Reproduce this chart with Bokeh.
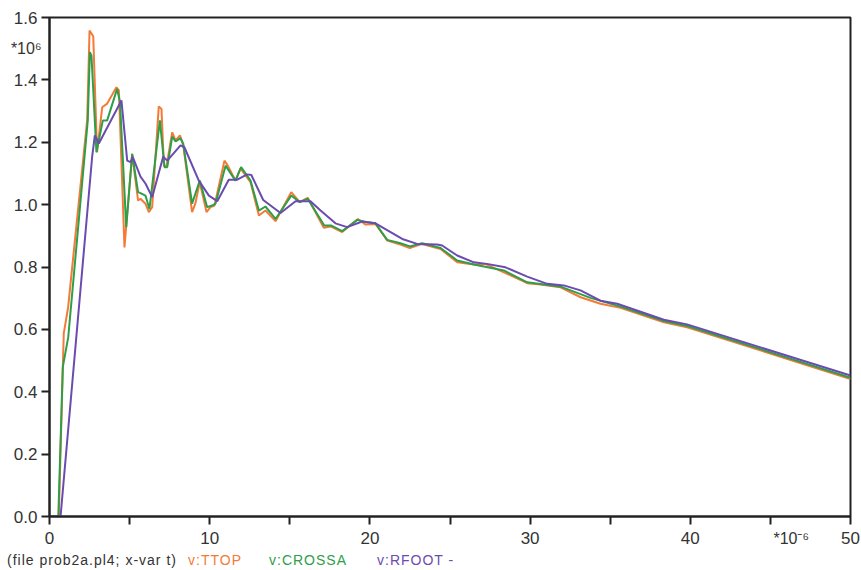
from bokeh.plotting import figure
from bokeh.models import Range1d, FixedTicker, LinearAxis, Div
from bokeh.layouts import column
from bokeh.embed import file_html
from bokeh.resources import INLINE

# time in microseconds (*10^-6), voltage in *10^6
t_ttop = [0, 0.58, 0.89, 1.16, 2.35, 2.5, 2.73, 2.97, 3.29, 3.6, 4.18, 4.33, 4.68, 4.85, 5.16, 5.53,
          5.68, 5.99, 6.2, 6.41, 6.82, 6.99, 7.14, 7.3, 7.66, 7.87, 8.14, 8.35, 8.9, 9.1, 9.38, 9.8,
          10.05, 10.3, 10.92, 11.13, 11.61, 11.92, 12.55, 13.07, 13.48, 14.11, 15.09, 15.62, 16.12,
          17.12, 17.54, 18.27, 19.25, 19.73, 20.35, 21.08, 21.91, 22.49, 23.26, 24.41, 25.45, 26.49,
          27.2, 28.36, 29.82, 30.65, 31.9, 33.15, 34.39, 35.64, 38.35, 39.8, 50]
v_ttop = [0, 0, 0.587, 0.67, 1.27, 1.558, 1.54, 1.168, 1.312, 1.324, 1.376, 1.366, 0.863, 0.97, 1.163, 1.013,
          1.019, 1.003, 0.976, 0.992, 1.315, 1.307, 1.125, 1.122, 1.232, 1.206, 1.222, 1.19, 0.976, 1.003, 1.072, 0.976,
          0.992, 0.997, 1.141, 1.125, 1.077, 1.116, 1.072, 0.965, 0.981, 0.947, 1.04, 1.008, 1.022,
          0.926, 0.93, 0.912, 0.954, 0.936, 0.938, 0.885, 0.872, 0.861, 0.874, 0.858, 0.815, 0.808,
          0.81, 0.783, 0.748, 0.744, 0.735, 0.703, 0.682, 0.669, 0.623, 0.607, 0.441]

t_crossa = [0, 0.55, 0.83, 1.17, 2.39, 2.52, 2.62, 2.93, 3.33, 3.6, 4.22, 4.4, 4.79, 5.16, 5.53,
            5.68, 5.99, 6.24, 6.89, 7.18, 7.35, 7.66, 7.87, 8.18, 8.35, 8.9, 9.38, 9.84, 10.15, 10.36,
            10.99, 11.61, 11.96, 12.55, 13.07, 13.48, 14.11, 15.09, 15.62, 16.12, 17.15, 17.6, 18.27,
            19.22, 19.73, 20.35, 21.08, 21.91, 22.49, 23.26, 24.41, 25.45, 26.49, 28.36, 29.82, 31.9,
            33.77, 35.64, 38.35, 39.8, 50]
v_crossa = [0, 0, 0.479, 0.575, 1.27, 1.489, 1.478, 1.168, 1.27, 1.27, 1.371, 1.33, 0.928, 1.163, 1.04,
            1.037, 1.029, 0.986, 1.27, 1.12, 1.12, 1.218, 1.203, 1.213, 1.195, 1.003, 1.077, 0.992, 0.997, 1.003,
            1.125, 1.077, 1.12, 1.077, 0.981, 0.994, 0.954, 1.029, 1.008, 1.019, 0.933, 0.933, 0.915,
            0.951, 0.944, 0.94, 0.887, 0.876, 0.866, 0.876, 0.861, 0.821, 0.808, 0.789, 0.751, 0.737,
            0.701, 0.673, 0.627, 0.611, 0.445]

t_rfoot = [0, 0.69, 2.66, 2.83, 3.08, 4.49, 4.85, 5.06, 5.2, 5.68, 6.0, 6.41, 7.1, 7.35, 8.18, 8.42,
           9.32, 9.95, 10.47, 11.19, 11.72, 12.34, 12.6, 13.34, 14.42, 15.36, 16.29, 16.92, 17.85, 18.58,
           19.52, 20.35, 21.29, 22.02, 22.95, 24.2, 24.51, 25.45, 26.49, 27.3, 28.46, 29.82, 31.07, 32.1,
           33.15, 34.39, 35.44, 38.35, 39.8, 50]
v_rfoot = [0, 0, 1.152, 1.222, 1.196, 1.334, 1.141, 1.136, 1.152, 1.09, 1.067, 1.024, 1.154, 1.141, 1.19, 1.184,
           1.077, 1.029, 1.011, 1.08, 1.08, 1.097, 1.095, 1.015, 0.973, 1.011, 1.011, 0.981, 0.94, 0.928,
           0.946, 0.94, 0.912, 0.89, 0.874, 0.872, 0.869, 0.837, 0.815, 0.81, 0.799, 0.769, 0.746, 0.741,
           0.725, 0.692, 0.682, 0.631, 0.616, 0.452]

x_ticks = [0, 5, 10, 15, 20, 25, 30, 35, 40, 45, 50]
x_tick_labels = {0: "0", 5: "", 10: "10", 15: "", 20: "20", 25: "", 30: "30", 35: "", 40: "40", 45: "", 50: "50"}
y_ticks = [0.0, 0.2, 0.4, 0.6, 0.8, 1.0, 1.2, 1.4, 1.6]
y_tick_labels = {t: f"{t:.1f}" for t in y_ticks}
x_mult_text = "*10\u207b\u2076"
y_mult_text = "*10\u2076"

footer_texts = ["(file prob2a.pl4; x-var t)", "v:TTOP", "v:CROSSA", "v:RFOOT -"]

FONT = "Liberation Sans"
TXT = "#333333"
C_TTOP = "#F47A38"
C_CROSSA = "#2E9E48"
C_RFOOT = "#6A4BB0"
footer_colors = [TXT, C_TTOP, C_CROSSA, C_RFOOT]
footer_left = [7, 188, 269, 377]

p = figure(width=861, height=552, output_backend="svg", toolbar_location=None,
           x_range=Range1d(0, 50), y_range=Range1d(0, 1.6),
           min_border_left=49, min_border_right=11, min_border_top=17, min_border_bottom=36)
p.background_fill_color = "white"
p.border_fill_color = "white"
p.outline_line_color = "#222222"
p.outline_line_width = 2
p.xgrid.visible = False
p.ygrid.visible = False
p.extra_x_ranges = {"mult": Range1d(-1.3, 48.7)}

p.line(t_ttop, v_ttop, line_color=C_TTOP, line_width=2)
p.line(t_crossa, v_crossa, line_color=C_CROSSA, line_width=2)
p.line(t_rfoot, v_rfoot, line_color=C_RFOOT, line_width=2)

for ax in (p.xaxis[0], p.yaxis[0]):
    ax.axis_line_color = "#222222"
    ax.axis_line_width = 2
    ax.major_tick_line_color = "#222222"
    ax.major_tick_line_width = 2
    ax.major_tick_in = 0
    ax.major_tick_out = 8
    ax.minor_tick_line_color = None
    ax.major_label_text_font = FONT
    ax.major_label_text_font_size = "17px"
    ax.major_label_text_color = TXT

p.xaxis[0].ticker = FixedTicker(ticks=x_ticks)
p.xaxis[0].major_label_overrides = x_tick_labels
p.xaxis[0].major_label_standoff = 7
p.yaxis[0].ticker = FixedTicker(ticks=y_ticks)
p.yaxis[0].major_label_overrides = y_tick_labels
p.yaxis[0].major_label_standoff = 4

# multiplier labels as extra axes (no line, no ticks)
def mult_axis(ticks, text, standoff, **kw):
    a = LinearAxis(ticker=FixedTicker(ticks=ticks), **kw)
    a.major_label_overrides = {ticks[0]: text}
    a.axis_line_color = None
    a.major_tick_line_color = None
    a.minor_tick_line_color = None
    a.major_tick_in = 0
    a.major_tick_out = 0
    a.major_label_standoff = standoff
    a.major_label_text_font = FONT
    a.major_label_text_font_size = "16px"
    a.major_label_text_color = TXT
    return a

p.add_layout(mult_axis([1.5], y_mult_text, -31), "left")
p.add_layout(mult_axis([45], x_mult_text, -17, x_range_name="mult"), "below")

# footer line
spans = "".join(
    f'<span style="position:absolute;left:{x}px;top:1px;color:{c};white-space:pre;line-height:14px;">{t}</span>'
    for t, c, x in zip(footer_texts, footer_colors, footer_left))
footer = Div(text=(f'<div style="position:relative;width:861px;height:18px;'
                   f'font-family:\'{FONT}\';font-size:14px;letter-spacing:1px;">{spans}</div>'),
             width=861, height=18, margin=(0, 0, 0, 0))

layout = column(p, footer, spacing=0)
open("out.html", "w").write(file_html(layout, INLINE))
